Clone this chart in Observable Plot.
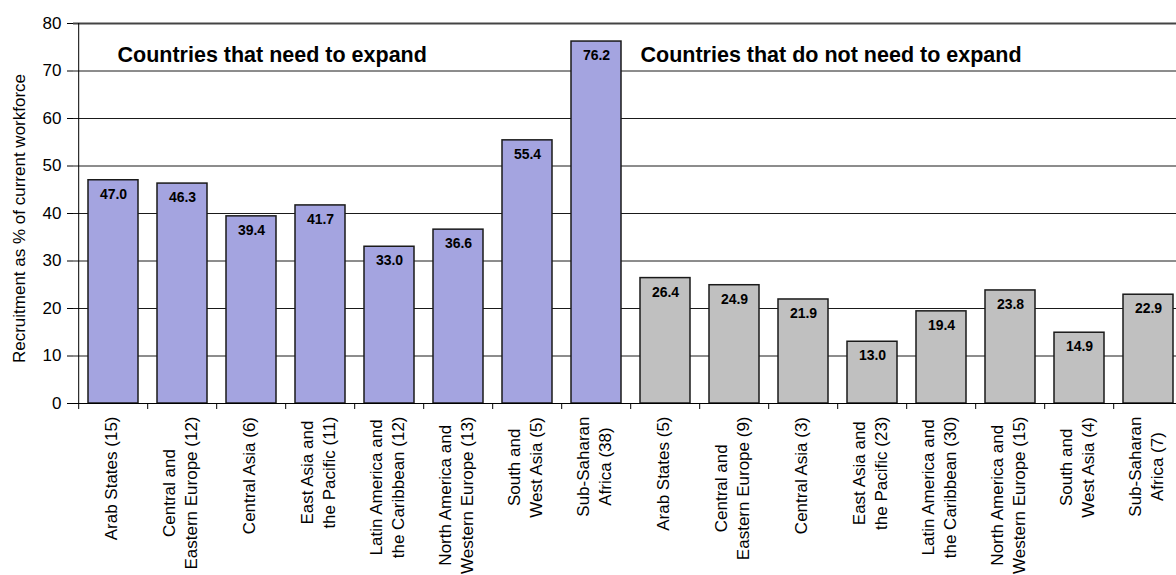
<!DOCTYPE html>
<html>
<head>
<meta charset="utf-8">
<script src="https://cdn.jsdelivr.net/npm/d3@7"></script>
<script src="https://cdn.jsdelivr.net/npm/@observablehq/plot@0.6"></script>
<style>
  html, body { margin: 0; padding: 0; background: #fff; overflow: hidden; }
</style>
</head>
<body>
<div id="chart"></div>
<script>
// ---- data ----
const needLabels = [
  "Arab States (15)",
  "Central and\nEastern Europe (12)",
  "Central Asia (6)",
  "East Asia and\nthe Pacific (11)",
  "Latin America and\nthe Caribbean (12)",
  "North America and\nWestern Europe (13)",
  "South and\nWest Asia (5)",
  "Sub-Saharan\nAfrica (38)"
];
const needValues = [47.0, 46.3, 39.4, 41.7, 33.0, 36.6, 55.4, 76.2];

const noNeedLabels = [
  "Arab States (5)",
  "Central and\nEastern Europe (9)",
  "Central Asia (3)",
  "East Asia and\nthe Pacific (23)",
  "Latin America and\nthe Caribbean (30)",
  "North America and\nWestern Europe (15)",
  "South and\nWest Asia (4)",
  "Sub-Saharan\nAfrica (7)"
];
const noNeedValues = [26.4, 24.9, 21.9, 13.0, 19.4, 23.8, 14.9, 22.9];

const groupNames = ["need", "noneed"];
const groupTitles = ["Countries that need to expand", "Countries that do not need to expand"];
const groupColors = ["#a4a4e0", "#c0c0c0"];
const yTicks = [0, 10, 20, 30, 40, 50, 60, 70, 80];
const yLabel = "Recruitment as % of current workforce";

// ---- table built from arrays ----
const data = [
  ...needLabels.map((c, i) => ({cat: c, value: needValues[i], group: groupNames[0]})),
  ...noNeedLabels.map((c, i) => ({cat: c, value: noNeedValues[i], group: groupNames[1]}))
];
const categories = data.map(d => d.cat);

// ---- layout ----
const FONT = "'Liberation Sans', Arial, Helvetica, sans-serif";
const width = 1176, height = 575;
const marginLeft = 73, marginTop = 23, marginBottom = 172, marginRight = 0;
const xRange = [marginLeft, 1187];
const step = (xRange[1] - xRange[0]) / categories.length;
const labelSize = 17;

// measure category label lines to align rotated blocks to the axis
const ctx = document.createElement("canvas").getContext("2d");
ctx.font = labelSize + "px 'Liberation Sans', Arial, sans-serif";
const labelMarks = data.map(d => {
  const w = Math.max(...d.cat.split("\n").map(s => ctx.measureText(s).width));
  return Plot.text([d], {
    x: "cat", frameAnchor: "bottom", text: "cat",
    rotate: -90, textAnchor: "middle", lineAnchor: "middle",
    lineHeight: 1.32, fontSize: labelSize, fill: "#000",
    dy: 13 + w / 2, dx: -3.5
  });
});

const chart = Plot.plot({
  width, height, marginLeft, marginTop, marginBottom, marginRight,
  style: {fontFamily: FONT, background: "#fff", overflow: "hidden"},
  x: {domain: categories, range: xRange, paddingInner: 0.28, paddingOuter: 0.14, label: null},
  y: {domain: [0, 80], label: null},
  color: {domain: groupNames, range: groupColors},
  marks: [
    Plot.gridY(yTicks, {stroke: "#1a1a1a", strokeOpacity: 1, strokeWidth: 1}),
    Plot.ruleY([yTicks[yTicks.length - 1]], {stroke: "#444", strokeWidth: 2}),
    Plot.barY(data, {x: "cat", y: "value", fill: "group", stroke: "#1a1a1a", strokeWidth: 1.5}),
    Plot.ruleY([0], {stroke: "#000", strokeWidth: 1}),
    Plot.ruleX([categories[0]], {x: d => d, dx: -step / 2, y1: 0, y2: yTicks[yTicks.length - 1], stroke: "#000", strokeWidth: 1}),
    Plot.axisY(yTicks, {tickSize: 6, tickPadding: 6, fontSize: 17, label: null, stroke: "#000"}),
    Plot.axisX({tickSize: 6, tickFormat: () => "", dx: -step / 2, label: null, stroke: "#000"}),
    Plot.text(data, {x: "cat", y: "value", text: d => d.value.toFixed(1), dy: 14, fontWeight: "bold", fontSize: 14, fill: "#000"}),
    ...labelMarks,
    Plot.text([groupTitles[0]], {text: d => d, frameAnchor: "top-left", dx: 44, dy: 23, textAnchor: "start", fontSize: 21.5, fontWeight: "bold", fill: "#000"}),
    Plot.text([groupTitles[1]], {text: d => d, frameAnchor: "top-left", dx: 567, dy: 23, textAnchor: "start", fontSize: 21.5, fontWeight: "bold", fill: "#000"}),
    Plot.text([yLabel], {text: d => d, frameAnchor: "left", dx: -53.5, dy: 5, rotate: -90, textAnchor: "middle", fontSize: 17, fill: "#000"})
  ]
});
document.getElementById("chart").append(chart);
</script>
</body>
</html>
